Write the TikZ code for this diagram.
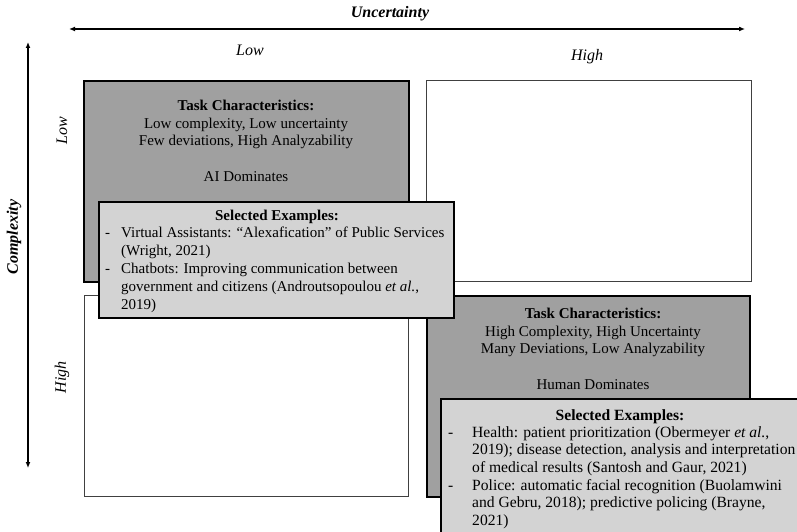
\documentclass[tikz,border=0pt]{standalone}
\usepackage{fontspec}
\setmainfont{Liberation Serif}
\usetikzlibrary{arrows.meta}
\definecolor{darkbox}{HTML}{A0A0A0}
\definecolor{lightbox}{HTML}{D3D3D3}
\tikzset{
  gbox/.style={draw=black, line width=2pt, fill=darkbox},
  wbox/.style={draw=black!75, line width=1.3pt, fill=white},
  ebox/.style={draw=black, line width=1.5pt, fill=lightbox},
  txt/.style={inner sep=0pt, font=\fontsize{15}{17.9}\selectfont},
  txtb/.style={inner sep=0pt, font=\fontsize{15.6}{17.7}\selectfont},
  lbl/.style={inner sep=0pt, font=\fontsize{16}{18}\selectfont\itshape},
  axis/.style={line width=1.4pt},
}
\begin{document}
\begin{tikzpicture}[x=1pt,y=-1pt]
\useasboundingbox (0,0) rectangle (797,532);
\clip (0,0) rectangle (797,532);
% axes
\coordinate (hl) at (69,29);
\coordinate (hr) at (745,29);
\draw[axis, {Latex[length=6pt,width=5pt]}-{Latex[length=6pt,width=5pt]}] (hl) -- (hr);
\coordinate (vt) at (28,42);
\coordinate (vb) at (28,468);
\draw[axis, {Latex[length=6pt,width=5pt]}-{Latex[length=6pt,width=5pt]}] (vt) -- (vb);
\node[lbl, font=\fontsize{16}{18}\selectfont\bfseries\itshape] (unc) at (390,14) {Uncertainty};
\node[lbl, font=\fontsize{16}{18}\selectfont\bfseries\itshape, rotate=90] (cmp) at (14,237) {Complexity};
\node[lbl] (ulow) at (250,50) {Low};
\node[lbl] (uhigh) at (587,57) {High};
\node[lbl, rotate=90] (clow) at (62,131) {Low};
\node[lbl, rotate=90] (chigh) at (62,377) {High};
% quadrants
\node[gbox, anchor=north west, minimum width=325pt, minimum height=201pt, inner sep=0pt] (q1) at (83,80) {};
\node[wbox, anchor=north west, minimum width=325pt, minimum height=201pt, inner sep=0pt] (q2) at (426,80) {};
\node[wbox, anchor=north west, minimum width=324pt, minimum height=201pt, inner sep=0pt] (q3) at (84,295) {};
\node[gbox, anchor=north west, minimum width=323pt, minimum height=201pt, inner sep=0pt] (q4) at (426,295) {};
% quadrant texts
\node[txt, align=center, anchor=north] (t1) at (246,99.5) {\textbf{Task Characteristics:}\\Low complexity, Low uncertainty\\Few deviations, High Analyzability\\[17.9pt]AI Dominates};
\node[txt, align=center, anchor=north] (t4) at (593,307.5) {\textbf{Task Characteristics:}\\High Complexity, High Uncertainty\\Many Deviations, Low Analyzability\\[17.9pt]Human Dominates};
% examples boxes
\node[ebox, anchor=north west, minimum width=355pt, minimum height=116pt, inner sep=0pt] (e1) at (98,201) {};
\node[txt, anchor=north] (e1h) at (277,209.5) {\textbf{Selected Examples:}};
\node[txt, align=left, anchor=north west] (e1t) at (105,227) {\makebox[16pt][l]{-}Virtual Assistants: “Alexafication” of Public Services\\
\hspace*{16pt}(Wright, 2021)\\
\makebox[16pt][l]{-}Chatbots: Improving communication between\\
\hspace*{16pt}government and citizens (Androutsopoulou \textit{et al.},\\
\hspace*{16pt}2019)};
\node[ebox, anchor=north west, minimum width=370pt, minimum height=150pt, inner sep=0pt] (e2) at (440,398) {};
\node[txtb, anchor=north] (e2h) at (620,409) {\textbf{Selected Examples:}};
\node[txtb, align=left, anchor=north west] (e2t) at (448,426) {\makebox[24pt][l]{-}Health: patient prioritization (Obermeyer \textit{et al.},\\
\hspace*{24pt}2019); disease detection, analysis and interpretation\\
\hspace*{24pt}of medical results (Santosh and Gaur, 2021)\\
\makebox[24pt][l]{-}Police: automatic facial recognition (Buolamwini\\
\hspace*{24pt}and Gebru, 2018); predictive policing (Brayne,\\
\hspace*{24pt}2021)};
\end{tikzpicture}
\end{document}
